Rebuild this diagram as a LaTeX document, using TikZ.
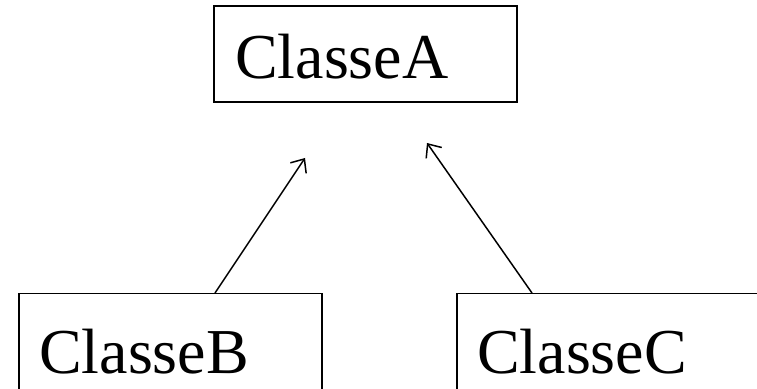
\documentclass[tikz,border=0pt]{standalone}
\usepackage{fontspec}
\setmainfont{Liberation Serif}
\usetikzlibrary{arrows.meta}
\begin{document}
\begin{tikzpicture}[x=1pt,y=1pt,
  classbox/.style={draw=black,line width=1.5pt,rectangle,minimum width=303pt,inner sep=0pt},
  classtext/.style={anchor=base west,inner sep=0pt,font=\fontsize{64}{70}\selectfont},
  inherit/.style={draw=black,line width=1.5pt,-{Straight Barb[length=11pt,width=19pt,line width=1.5pt]}}]
\useasboundingbox (0,0) rectangle (757,388);
\clip (0,0) rectangle (757,388);
\fill[white] (0,0) rectangle (757,388);
% boxes
\node[classbox,minimum height=96pt] (boxA) at (365.5,334) {};
\node[classbox,minimum height=120pt,anchor=north west] (boxB) at (18,95) {};
\node[classbox,minimum height=120pt,anchor=north west] (boxC) at (456,95) {};
% labels
\node[classtext] (labA) at (235,309) {ClasseA};
\node[classtext] (labB) at (39,15) {ClasseB};
\node[classtext] (labC) at (477,15) {ClasseC};
% arrow ends
\coordinate (tipB) at (305,230);
\coordinate (tipC) at (427,245);
\draw[inherit] (boxB.north west) ++(197,0) coordinate (startB) -- (tipB);
\draw[inherit] (boxC.north west) ++(76,0) coordinate (startC) -- (tipC);
\end{tikzpicture}
\end{document}
